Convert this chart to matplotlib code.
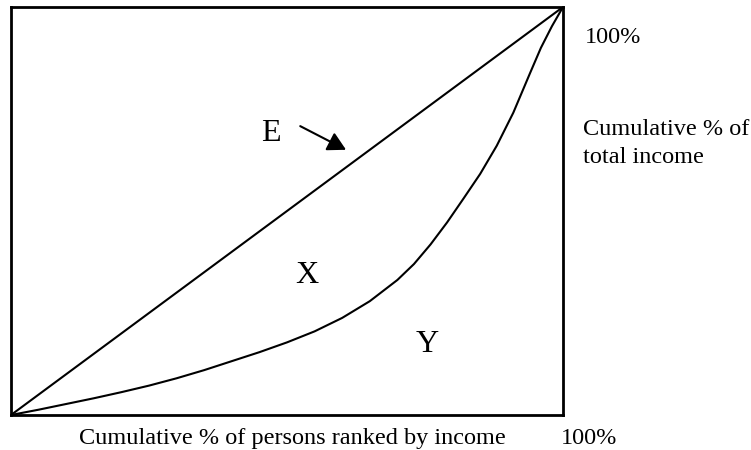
import matplotlib
matplotlib.use("Agg")
import matplotlib.pyplot as plt

# Lorenz curve (share of persons, share of income)
persons = [0.0, 0.05, 0.10, 0.15, 0.20, 0.25, 0.30, 0.35, 0.40, 0.45, 0.50, 0.55,
           0.60, 0.65, 0.70, 0.73, 0.76, 0.79, 0.82, 0.85, 0.88, 0.91, 0.94, 0.96,
           0.98, 1.0]
income = [0.0, 0.013, 0.027, 0.041, 0.056, 0.072, 0.090, 0.110, 0.132, 0.154, 0.178,
          0.205, 0.238, 0.279, 0.331, 0.370, 0.418, 0.472, 0.531, 0.591, 0.660, 0.741,
          0.837, 0.900, 0.953, 1.0]
equality = [0.0, 1.0]

area_labels = ["X", "Y"]
area_pos = [(0.536, 0.343), (0.754, 0.172)]

plt.rcParams["font.family"] = ["Liberation Serif", "DejaVu Serif"]
FS = 17.5
BIG = 23

W, H = 751, 450
fig = plt.figure(figsize=(W / 100, H / 100), dpi=100)
left, right, top, bottom = 11, 563, 7, 415
ax = fig.add_axes([left / W, 1 - bottom / H, (right - left) / W, (bottom - top) / H])

ax.plot(equality, equality, color="black", lw=1.5, solid_capstyle="butt")
ax.plot(persons, income, color="black", lw=1.5, solid_joinstyle="round")
ax.set_xlim(0, 1)
ax.set_ylim(0, 1)
ax.set_xticks([])
ax.set_yticks([])
for s in ax.spines.values():
    s.set_linewidth(2)

ax.text(0.471, 0.691, "E", fontsize=BIG, ha="center", va="center")
ax.annotate("", xy=(0.607, 0.650), xytext=(0.524, 0.708),
            arrowprops=dict(arrowstyle="-|>,head_length=1.1,head_width=0.6",
                            color="black", lw=1.5, shrinkA=0, shrinkB=0))
for lab, (x, y) in zip(area_labels, area_pos):
    ax.text(x, y, lab, fontsize=BIG, ha="center", va="center")

def ftext(px, py, s, ha="left"):
    fig.text(px / W, 1 - py / H, s, fontsize=FS, ha=ha, va="baseline")

ftext(585, 43, "100%")
ftext(583, 135, "Cumulative % of")
ftext(583, 163, "total income")
ftext(79, 444, "Cumulative % of persons ranked by income")
ftext(561, 444, "100%")

fig.savefig("out.png", dpi=100)
